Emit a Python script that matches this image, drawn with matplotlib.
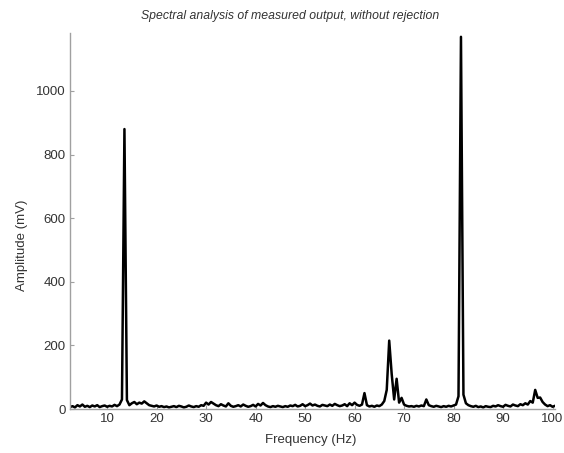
import numpy as np
import matplotlib
matplotlib.use('Agg')
import matplotlib.pyplot as plt

plt.rcParams['font.family'] = ['Liberation Sans', 'DejaVu Sans']

# frequency grid (Hz), 0.5 Hz resolution
freqs = np.arange(2.5, 100.51, 0.5)
# amplitude (mV)
amps = [
    6, 9, 5, 12, 8, 14, 7, 10, 6, 11,          # 2.5 - 7.0
    8, 12, 6, 9, 11, 7, 10, 8, 13, 9,          # 7.5 - 12.0
    14, 30, 880, 28, 12, 18, 22, 15, 20, 17,   # 12.5 - 17.0
    24, 18, 12, 10, 8, 11, 7, 9, 6, 8,         # 17.5 - 22.0
    5, 7, 9, 6, 10, 8, 5, 7, 11, 8,            # 22.5 - 27.0
    6, 9, 7, 12, 10, 20, 14, 22, 17, 12,       # 27.5 - 32.0
    9, 15, 11, 8, 18, 10, 7, 9, 12, 8,         # 32.5 - 37.0
    14, 10, 7, 9, 13, 8, 16, 11, 19, 12,       # 37.5 - 42.0
    8, 6, 9, 7, 10, 8, 6, 9, 7, 11,            # 42.5 - 47.0
    9, 13, 8, 10, 15, 9, 12, 17, 11, 14,       # 47.5 - 52.0
    10, 8, 13, 11, 9, 14, 10, 16, 12, 9,       # 52.5 - 57.0
    11, 15, 9, 18, 12, 20, 13, 10, 14, 50,     # 57.5 - 62.0
    12, 8, 10, 7, 11, 9, 14, 25, 60, 215,      # 62.5 - 67.0
    110, 30, 95, 20, 35, 14, 10, 8, 9, 7,      # 67.5 - 72.0
    10, 8, 11, 9, 30, 12, 9, 7, 10, 8,         # 72.5 - 77.0
    6, 9, 7, 10, 8, 11, 14, 40, 1170, 45,      # 77.5 - 82.0
    18, 12, 9, 7, 10, 6, 8, 5, 9, 7,           # 82.5 - 87.0
    6, 10, 8, 12, 9, 7, 13, 10, 8, 14,         # 87.5 - 92.0
    11, 9, 15, 12, 18, 14, 25, 20, 60, 35,     # 92.5 - 97.0
    36, 22, 14, 9, 12, 7, 10,                  # 97.5 - 100.5
]

xticks = [10, 20, 30, 40, 50, 60, 70, 80, 90, 100]
yticks = [0, 200, 400, 600, 800, 1000]

fig = plt.figure(figsize=(5.64, 4.53), dpi=100)
ax = fig.add_axes([70/564, 1-409/453, 485/564, 376/453])
ax.plot(freqs, amps, color='black', lw=1.8)

ax.set_xlim(2.5, 100.5)
ax.set_ylim(0, 1182)
ax.set_xticks(xticks)
ax.set_yticks(yticks)

for s in ['top', 'right']:
    ax.spines[s].set_visible(False)
for s in ['left', 'bottom']:
    ax.spines[s].set_color('#a0a0a0')
    ax.spines[s].set_linewidth(1.0)
ax.tick_params(direction='in', length=3, color='#a0a0a0', labelsize=9.5,
               labelcolor='#333333', pad=3)

fig.text(290/564, 1-16/453, 'Spectral analysis of measured output, without rejection',
         ha='center', va='center', style='italic', fontsize=8.8, color='#333333')
fig.text(311/564, 1-440/453, 'Frequency (Hz)', ha='center', va='center',
         fontsize=9.5, color='#333333')
fig.text(22/564, 1-245/453, 'Amplitude (mV)', ha='center', va='center',
         rotation=90, fontsize=9.5, color='#333333')

plt.savefig('out.png', dpi=100)
